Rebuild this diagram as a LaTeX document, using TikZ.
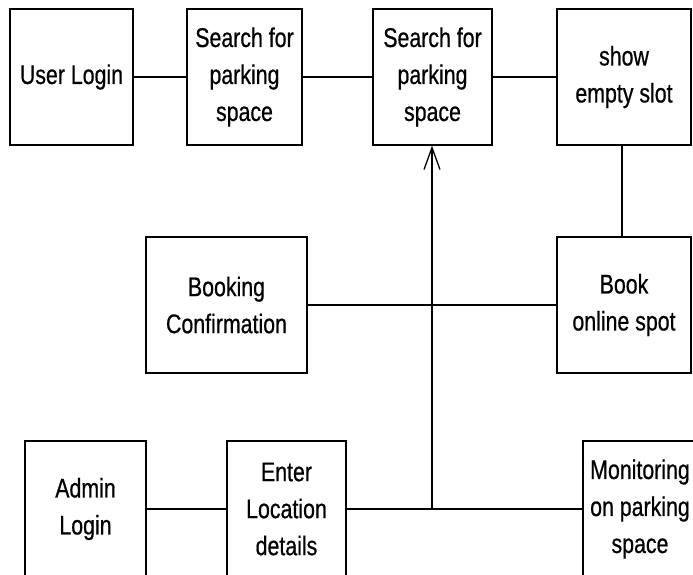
\documentclass[tikz,border=0pt]{standalone}
\usepackage{fontspec}
\setmainfont{Liberation Sans}[FakeStretch=0.79, FakeBold=0.6]
\usetikzlibrary{arrows.meta}

\begin{document}
\begin{tikzpicture}[x=1pt, y=-1pt,
	every node/.style={font=\fontsize{27}{37}\selectfont},
	blk/.style={draw, line width=1.3pt, align=center, inner sep=0pt, minimum height=136pt},
	link/.style={line width=1.3pt}]
	\useasboundingbox (0,0) rectangle (693,575);
	% user side, top row
	\node[blk, minimum width=123pt] (ulogin) at (71.5,77) {User Login};
	\node[blk, minimum width=115pt] (search1) at (244.5,77) {Search for\\ parking\\ space};
	\node[blk, minimum width=119pt] (search2) at (432.5,77) {Search for\\ parking\\ space};
	\node[blk, minimum width=134pt] (emptyslot) at (624,77) {show\\ empty slot};
	% booking row
	\node[blk, minimum width=161pt] (booking) at (226.5,305) {Booking\\ Confirmation};
	\node[blk, minimum width=134pt] (bookspot) at (624,305) {Book\\ online spot};
	% admin side, bottom row
	\node[blk, minimum width=121pt] (admin) at (85.5,509) {Admin\\ Login};
	\node[blk, minimum width=119pt] (enter) at (286.5,509) {Enter\\ Location\\ details};
	\node[blk, minimum width=114pt] (monitor) at (640,509) {Monitoring\\ on parking\\ space};
	\coordinate (jn) at (432,509);

	\draw[link] (ulogin) -- (search1);
	\draw[link] (search1) -- (search2);
	\draw[link] (search2) -- (emptyslot);
	\draw[link] ([xshift=-2pt]emptyslot.south) -- ([xshift=-2pt]bookspot.north);
	\draw[link] (booking) -- (bookspot);
	\draw[link] (admin) -- (enter);
	\draw[link] (enter) -- (monitor);
	\draw[link, -{Straight Barb[length=22pt, width=16pt, line width=1.3pt]}] (jn) -- (jn |- search2.south);
\end{tikzpicture}
\end{document}
